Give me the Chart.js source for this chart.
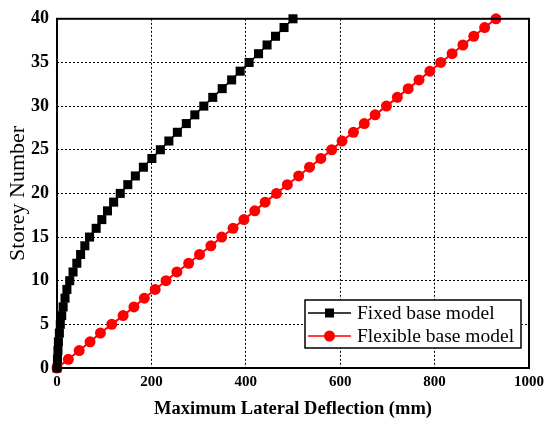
<!DOCTYPE html>
<html><head><meta charset="utf-8">
<script src="https://cdn.jsdelivr.net/npm/chart.js@4"></script>
<style>html,body{margin:0;padding:0;background:#fff}#wrap{width:549px;height:424px;position:relative}</style>
</head><body><div id="wrap"><canvas id="c" width="549" height="424"></canvas></div>
<script>
const storeys = [0,1,2,3,4,5,6,7,8,9,10,11,12,13,14,15,16,17,18,19,20,21,22,23,24,25,26,27,28,29,30,31,32,33,34,35,36,37,38,39,40];
const fixedBase = [0,1,2,3,5,7,10,13,17,21,27,34,42,50,59,69,83,95,107,120,134,150,166,183,201,219,237,255,274,292,311,330,350,370,388,407,427,445,463,481,500];
const flexibleBase = [0,24,47,70,92,116,140,163,185,208,231,254,279,302,326,349,373,396,419,441,465,488,512,535,559,582,604,628,651,674,698,721,744,767,790,813,837,860,883,906,930];
const seriesLabels = ['Fixed base model','Flexible base model'];
const xTitle = 'Maximum Lateral Deflection (mm)';
const yTitle = 'Storey Number';

const serif = "'Liberation Serif','Times New Roman',serif";
const toPts = (xs) => xs.map((v,i)=>({x:v,y:storeys[i]}));

const frame = {
  id:'frame',
  afterDatasetsDraw(chart){
    const {ctx, chartArea:a} = chart;
    ctx.save();
    ctx.strokeStyle='#000'; ctx.lineWidth=2;
    ctx.strokeRect(a.left,a.top,a.right-a.left,a.bottom-a.top);
    ctx.restore();
  }
};
const legendBox = {
  id:'legendBox',
  afterDraw(chart){
    const ctx = chart.ctx;
    const x0=305, y0=300, w=216, h=48;
    ctx.save();
    ctx.fillStyle='#fff'; ctx.fillRect(x0,y0,w,h);
    ctx.strokeStyle='#000'; ctx.lineWidth=1.5; ctx.strokeRect(x0,y0,w,h);
    chart.data.datasets.forEach((ds,i)=>{
      const y = y0+13+i*23;
      ctx.strokeStyle=ds.borderColor; ctx.lineWidth=1.5;
      ctx.beginPath(); ctx.moveTo(x0+3,y); ctx.lineTo(x0+46,y); ctx.stroke();
      ctx.fillStyle=ds.pointBackgroundColor;
      if(ds.pointStyle==='rect'){ ctx.fillRect(x0+20,y-4.5,9,9); }
      else { ctx.beginPath(); ctx.arc(x0+24.5,y,5.5,0,Math.PI*2); ctx.fill(); }
      ctx.fillStyle='#000'; ctx.font='19.5px '+serif; ctx.textBaseline='middle'; ctx.textAlign='left';
      ctx.fillText(ds.label, x0+52, y+1);
    });
    ctx.restore();
  }
};

new Chart(document.getElementById('c'),{
  type:'line',
  data:{datasets:[
    {label:seriesLabels[0], data:toPts(fixedBase), borderColor:'#000', backgroundColor:'#000', pointBackgroundColor:'#000', pointBorderColor:'#000', pointStyle:'rect', pointRadius:6.4, pointBorderWidth:0, borderWidth:1.5, tension:0, clip:false},
    {label:seriesLabels[1], data:toPts(flexibleBase), borderColor:'#ff0000', backgroundColor:'#ff0000', pointBackgroundColor:'#ff0000', pointBorderColor:'#ff0000', pointStyle:'circle', pointRadius:5.5, pointBorderWidth:0, borderWidth:2, tension:0, clip:false}
  ]},
  options:{
    responsive:false, animation:false, devicePixelRatio:1,
    layout:{padding:{top:16,right:17,left:0,bottom:0}},
    plugins:{legend:{display:false}, tooltip:{enabled:false}},
    scales:{
      x:{type:'linear', min:0, max:1000,
        ticks:{stepSize:200, color:'#000', font:{family:serif, size:15, weight:'bold'}, padding:5, maxRotation:0, callback:(v)=>String(v)},
        grid:{color:'#000', lineWidth:1, drawTicks:false},
        border:{display:false, dash:[2,2]},
        title:{display:true, text:xTitle, color:'#000', font:{family:serif, size:18.5, weight:'bold'}, padding:{top:8}},
        afterFit(s){ s.height = 56; }
      },
      y:{type:'linear', min:0, max:40,
        ticks:{stepSize:5, color:'#000', font:{family:serif, size:18, weight:'bold'}, padding:8},
        grid:{color:'#000', lineWidth:1, drawTicks:false},
        border:{display:false, dash:[2,2]},
        title:{display:true, text:yTitle, color:'#000', font:{family:serif, size:22}, padding:{top:5, bottom:0}},
        afterFit(s){ s.width = 57; }
      }
    }
  },
  plugins:[frame, legendBox]
});
</script></body></html>
